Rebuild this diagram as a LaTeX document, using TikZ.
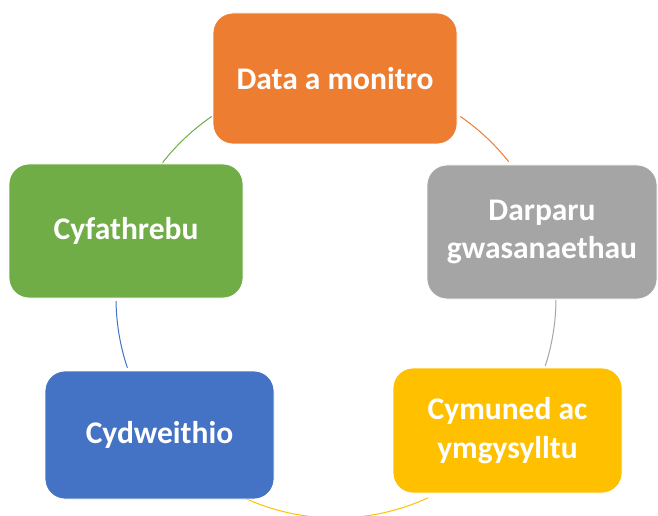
\documentclass[tikz,border=0pt]{standalone}
\usepackage{fontspec}
\setmainfont{Carlito}
\definecolor{cOrange}{HTML}{ED7D31}
\definecolor{cGreen}{HTML}{70AD47}
\definecolor{cGray}{HTML}{A5A5A5}
\definecolor{cBlue}{HTML}{4472C4}
\definecolor{cYellow}{HTML}{FFC000}
\tikzset{
  cyclebox/.style={rounded corners=20pt, draw=white, line width=0.8pt, inner sep=0pt,
    align=center, text=white, font=\bfseries\fontsize{31.5}{38.5}\selectfont},
  cyclearc/.style={line width=1pt}
}
\begin{document}
\begin{tikzpicture}[x=1pt,y=1pt]
\useasboundingbox (0,0) rectangle (658,515);
\coordinate (c) at (336,217);
% arcs (connectors)
\draw[cyclearc,cGreen]  (c) ++(142:220) arc[start angle=142, end angle=124.4, radius=220];
\draw[cyclearc,cOrange] (c) ++(55.6:220) arc[start angle=55.6, end angle=38.3, radius=220];
\draw[cyclearc,cGray]   (c) ++(-0.5:220) arc[start angle=-0.5, end angle=-18, radius=220];
\draw[cyclearc,cYellow] (c) ++(-65.2:220) arc[start angle=-65.2, end angle=-114.5, radius=220];
\draw[cyclearc,cBlue]   (c) ++(198.5:220) arc[start angle=198.5, end angle=180.8, radius=220];
% boxes
\node[cyclebox, fill=cOrange, minimum width=244pt, minimum height=131pt] (data) at (335,436.5) {Data a monitro};
\node[cyclebox, fill=cGray, minimum width=230pt, minimum height=134pt] (darparu) at (542,283) {Darparu\\gwasanaethau};
\node[cyclebox, fill=cYellow, minimum width=229pt, minimum height=125pt] (cymuned) at (507.5,84.5) {Cymuned ac\\ymgysylltu};
\node[cyclebox, fill=cBlue, minimum width=229pt, minimum height=128pt] (cydweithio) at (159.5,80) {Cydweithio};
\node[cyclebox, fill=cGreen, minimum width=234pt, minimum height=134pt] (cyfathrebu) at (126,284) {Cyfathrebu};
\end{tikzpicture}
\end{document}
